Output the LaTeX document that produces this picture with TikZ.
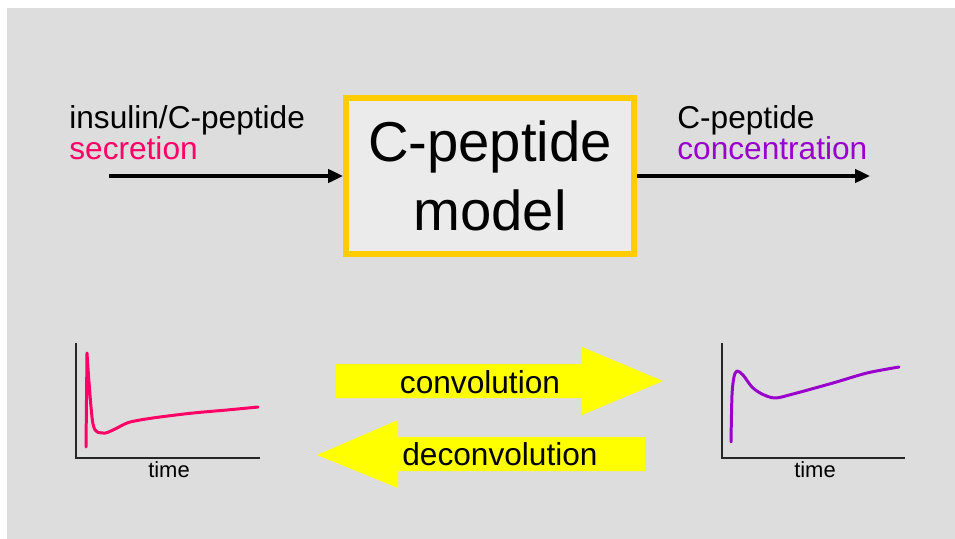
\documentclass[tikz,border=0pt]{standalone}
\usepackage{fontspec}
\setmainfont{Liberation Sans}
\usetikzlibrary{arrows.meta, positioning}
\definecolor{PanelGray}{HTML}{DDDDDD}
\definecolor{BoxGray}{HTML}{EBEBEB}
\definecolor{BoxGold}{HTML}{FFCC00}
\definecolor{SecPink}{HTML}{FF0066}
\definecolor{ConcPurple}{HTML}{9900CC}
\definecolor{ConvYellow}{HTML}{FFFF00}

\begin{document}
\begin{tikzpicture}[x=0.2mm, y=-0.2mm,
    iotext/.style={font=\fontsize{18}{21}\selectfont, inner sep=0pt},
    timetext/.style={font=\fontsize{12.5}{15}\selectfont, inner sep=0pt},
    flow/.style={line width=2.3pt, -{Triangle[length=8.5pt, width=7.5pt]}},
    axisline/.style={line width=0.7pt, draw=black!85},
    curve/.style={line width=1.7pt, line join=round, line cap=round}]
        \useasboundingbox (0,0) rectangle (955,539);
        % Slide background
        \fill[white] (0,0) rectangle (955,539);
        \fill[PanelGray] (7,8) rectangle (955,539);

        % Model box
        \node[draw=BoxGold, fill=BoxGray, line width=3.4pt, minimum width=57.6mm, minimum height=31.2mm,
              align=center, font=\fontsize{32}{39}\selectfont] (model) at (490,176) {C-peptide\\model};

        % Input: secretion
        \node[iotext, anchor=base west] (inTop) at (69,128) {insulin/C-peptide};
        \node[iotext, anchor=base west, text=SecPink] (inBot) at (69,159) {secretion};
        \coordinate (inTail) at (109,176);
        \draw[flow] (inTail) -- (model.west);

        % Output: concentration
        \node[iotext, anchor=base west] (outTop) at (677,128) {C-peptide};
        \node[iotext, anchor=base west, text=ConcPurple] (outBot) at (677,159) {concentration};
        \coordinate (outTip) at (870,176);
        \draw[flow] (model.east) -- (outTip);

        % Secretion plot
        \draw[axisline] (76,343) -- (76,458) -- (260,458);
        \node[timetext, anchor=base] (timeL) at (169,477) {time};
        \draw[curve, SecPink] (86,447) -- plot[smooth, tension=0.5] coordinates {(87,353) (93,424) (103,433) (113,430)
              (127,423) (140,420) (160,417) (193,413) (227,410) (258,407)};

        % Concentration plot
        \draw[axisline] (722,343) -- (722,458) -- (905,458);
        \node[timetext, anchor=base] (timeR) at (815,477) {time};
        \draw[curve, ConcPurple] plot[smooth, tension=0.5] coordinates {(731,442) (732,395) (734,377) (737,371)
              (743,375) (752,387) (762,394) (775,398) (793,394) (833,383) (867,373) (899,367)};

        % Convolution / deconvolution arrows
        \fill[ConvYellow] (336,364) -- (582,364) -- (582,347) -- (663,381) -- (582,415) -- (582,398) -- (336,398) -- cycle;
        \node[iotext, anchor=base] (conv) at (480,393) {convolution};
        \fill[ConvYellow] (645,437) -- (398,437) -- (398,420) -- (317,455) -- (398,488) -- (398,471) -- (645,471) -- cycle;
        \node[iotext, anchor=base] (deconv) at (500,465) {deconvolution};
\end{tikzpicture}
\end{document}
